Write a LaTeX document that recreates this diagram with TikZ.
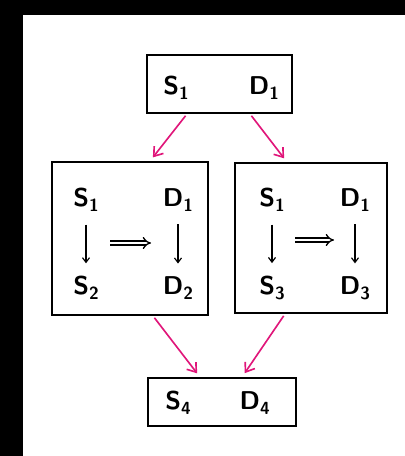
\documentclass[tikz,border=0pt]{standalone}
\usetikzlibrary{arrows.meta}
\definecolor{flowpink}{RGB}{224,22,122}
\newcommand{\idx}[1]{\raisebox{-0.4ex}{\fontsize{15}{17}\selectfont #1}}
\begin{document}
\begin{tikzpicture}[
    x=0.03cm,
    y=-0.03cm,
    box/.style={
        draw=black,
        line width=1.6pt,
        inner sep=0pt
    },
    lbl/.style={
        font=\sffamily\bfseries\fontsize{22}{24}\selectfont,
        inner sep=1pt
    },
    flow/.style={
        -{Straight Barb[length=7pt,width=10pt,line width=1.4pt]},
        line width=1.4pt,
        draw=flowpink,
        shorten <=2pt,
        shorten >=4pt
    },
    down/.style={
        -{Straight Barb[length=4pt,width=6pt]},
        line width=1pt,
        shorten <=10pt,
        shorten >=10pt
    },
    implies/.style={
        -{Implies},
        double,
        double distance=2.4pt,
        line width=1.1pt
    }
]
    \useasboundingbox (0,0) rectangle (405,456);

    % Rahmen
    \fill[black] (0,0) rectangle (405,15);
    \fill[black] (0,0) rectangle (23,456);

    % Kästen
    \node[box, minimum width=4.35cm, minimum height=1.74cm] (top) at (219.5,84) {};
    \node[box, minimum width=4.68cm, minimum height=4.59cm] (left) at (130,238.5) {};
    \node[box, minimum width=4.56cm, minimum height=4.5cm] (right) at (311,238) {};
    \node[box, minimum width=4.44cm, minimum height=1.44cm] (bottom) at (222,402) {};

    % Beschriftungen
    \foreach \name/\x/\y/\s/\i in {
        tS/176/88/S/1, tD/264/88/D/1,
        lS1/86/200/S/1, lD1/178/200/D/1, lS2/86/288/S/2, lD2/178/288/D/2,
        rS1/272/200/S/1, rD1/355/200/D/1, rS3/272/288/S/3, rD3/355/288/D/3,
        bS/178/403/S/4, bD/258/403/D/4
    }{
        \node[lbl] (\name) at (\x,\y) {\s\idx{\i}};
    }

    % Pfeile innen
    \draw[down] (lS1) -- (lS2);
    \draw[down] (lD1) -- (lD2);
    \draw[down] (rS1) -- (rS3);
    \draw[down] (rD1) -- (rD3);

    \coordinate (lA) at (110,243);
    \coordinate (lB) at (151,243);
    \coordinate (rA) at (295,240);
    \coordinate (rB) at (334,240);
    \draw[implies] (lA) -- (lB);
    \draw[implies] (rA) -- (rB);

    % Pfeile aussen
    \draw[flow] ([xshift=-0.975cm]top.south) -- ([xshift=0.6cm]left.north);
    \draw[flow] ([xshift=0.915cm]top.south) -- ([xshift=-0.72cm]right.north);
    \draw[flow] ([xshift=0.69cm]left.south) -- ([xshift=-0.66cm]bottom.north);
    \draw[flow] ([xshift=-0.78cm]right.south) -- ([xshift=0.6cm]bottom.north);

\end{tikzpicture}
\end{document}
